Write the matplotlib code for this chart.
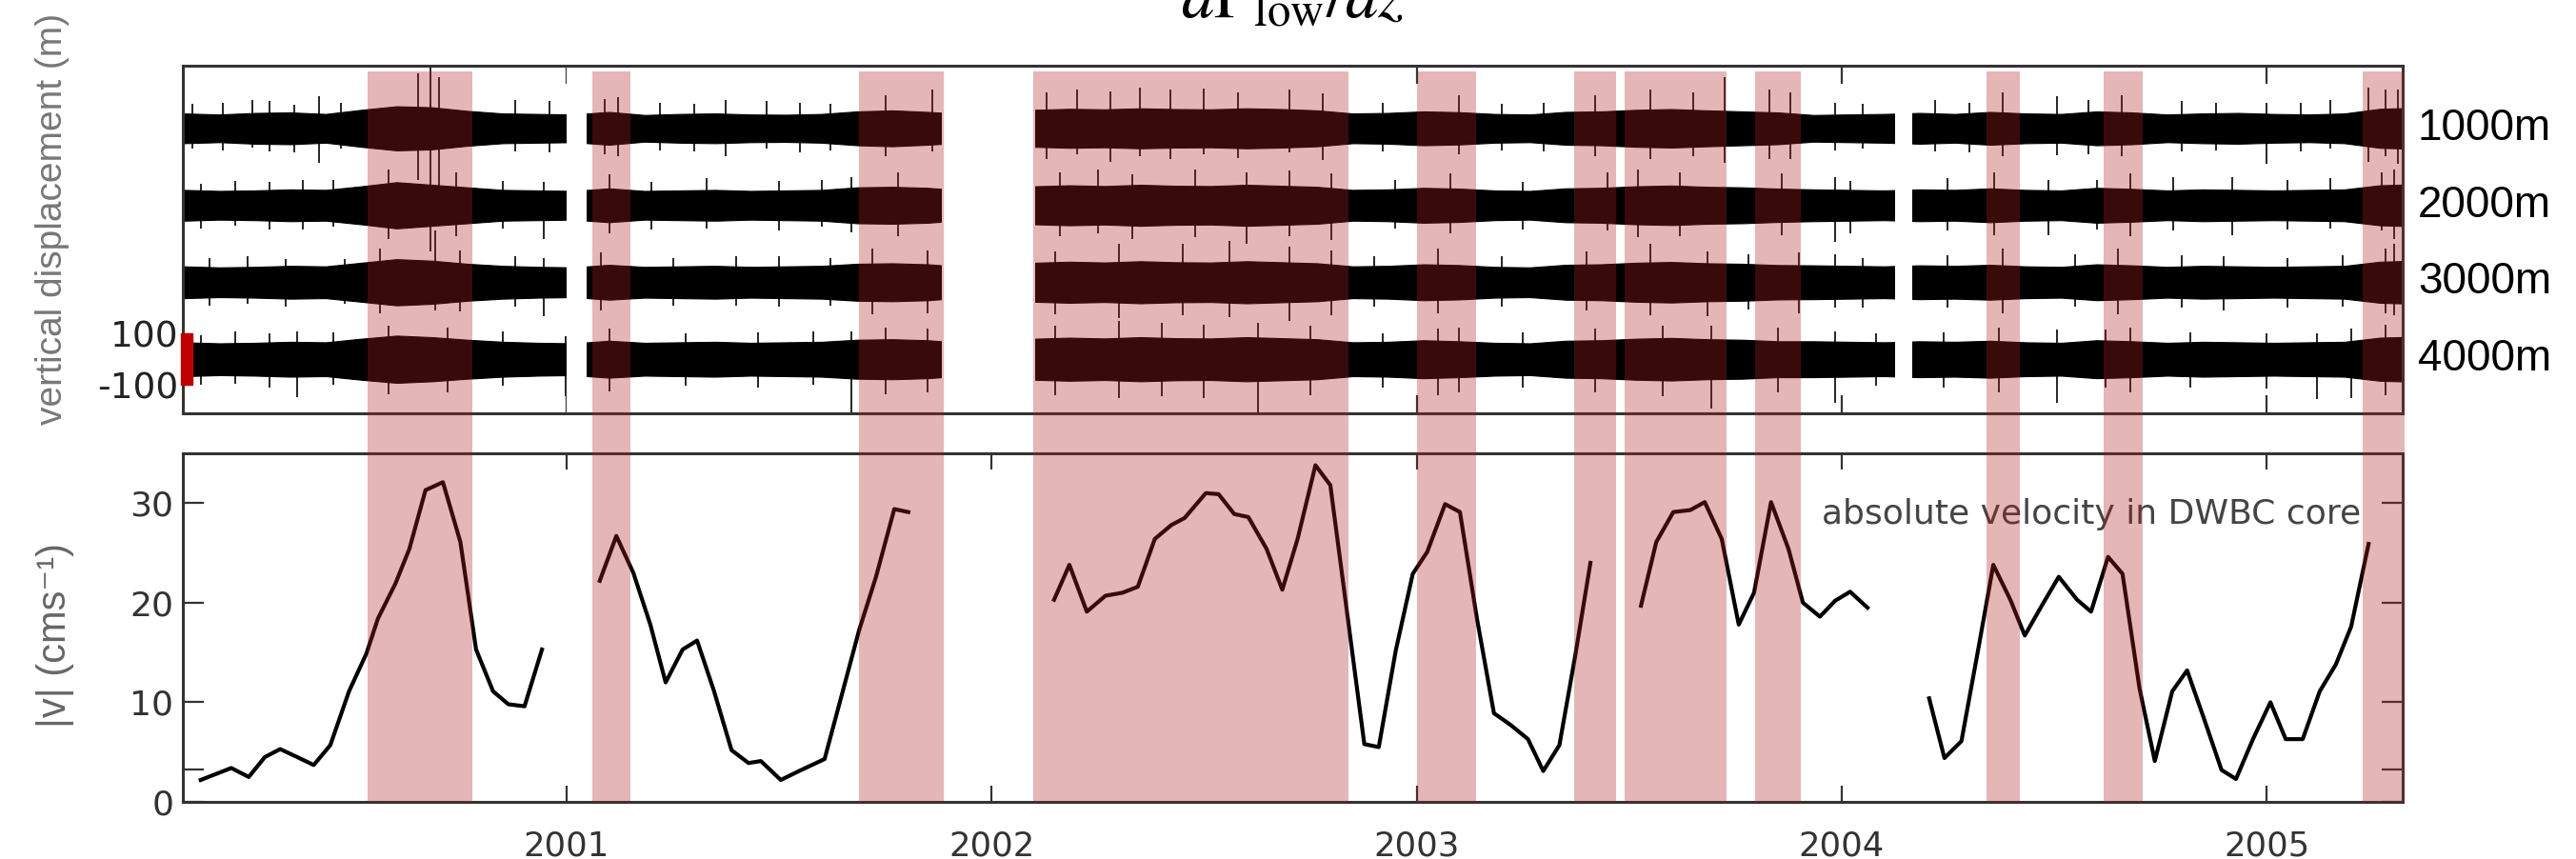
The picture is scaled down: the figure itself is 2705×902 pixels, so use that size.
import numpy as np
import matplotlib.pyplot as plt
import matplotlib.transforms as mtransforms
from matplotlib.patches import Rectangle

plt.rcParams['mathtext.fontset'] = 'stix'

# ---- data ----
years = [2001, 2002, 2003, 2004, 2005]
depths = ['1000m', '2000m', '3000m', '4000m']

# periods highlighted in red (decimal years)
band_start = [2000.532, 2001.061, 2001.688, 2002.097, 2003.000, 2003.370,
              2003.490, 2003.796, 2004.340, 2004.616, 2005.226]
band_end = [2000.778, 2001.150, 2001.887, 2002.840, 2003.140, 2003.470,
            2003.730, 2003.904, 2004.420, 2004.708, 2005.325]

# data gaps in the mooring records
gap_start = [2001.000, 2001.883, 2004.126]
gap_end = [2001.048, 2002.102, 2004.166]

# |v| in DWBC core (cm/s), nan = gap
v_time = [2000.139, 2000.175, 2000.211, 2000.252, 2000.290, 2000.326, 2000.366,
          2000.405, 2000.444, 2000.488, 2000.529, 2000.556, 2000.597, 2000.630,
          2000.668, 2000.709, 2000.750, 2000.787, 2000.827, 2000.863, 2000.901,
          2000.942, 2001.010,
          2001.078, 2001.117, 2001.157, 2001.197, 2001.233, 2001.273, 2001.307,
          2001.347, 2001.388, 2001.428, 2001.457, 2001.504, 2001.547, 2001.607,
          2001.688, 2001.728, 2001.771, 2001.804, 2001.950,
          2002.147, 2002.183, 2002.224, 2002.268, 2002.308, 2002.344, 2002.384,
          2002.423, 2002.454, 2002.504, 2002.534, 2002.571, 2002.604, 2002.647,
          2002.684, 2002.720, 2002.762, 2002.797, 2002.877, 2002.911, 2002.951,
          2002.991, 2003.025, 2003.067, 2003.102, 2003.142, 2003.182, 2003.222,
          2003.262, 2003.298, 2003.336, 2003.373, 2003.409, 2003.470,
          2003.528, 2003.564, 2003.604, 2003.644, 2003.678, 2003.718, 2003.758,
          2003.794, 2003.834, 2003.875, 2003.909, 2003.949, 2003.985, 2004.020,
          2004.061, 2004.130,
          2004.206, 2004.242, 2004.282, 2004.321, 2004.357, 2004.397, 2004.431,
          2004.471, 2004.511, 2004.554, 2004.587, 2004.627, 2004.661, 2004.701,
          2004.737, 2004.778, 2004.813, 2004.854, 2004.894, 2004.928, 2004.968,
          2005.009, 2005.045, 2005.085, 2005.125, 2005.163, 2005.199, 2005.240]
v_speed = [2.2, 2.8, 3.4, 2.5, 4.5, 5.3, 4.5,
           3.7, 5.7, 11.1, 14.9, 18.4, 21.9, 25.4,
           31.3, 32.1, 26.1, 15.3, 11.1, 9.8, 9.6,
           15.3, np.nan,
           22.2, 26.7, 23.0, 17.8, 12.0, 15.3, 16.2,
           11.1, 5.2, 3.9, 4.1, 2.2, 3.1, 4.3,
           17.2, 22.6, 29.4, 29.1, np.nan,
           20.3, 23.8, 19.1, 20.7, 21.0, 21.6, 26.4,
           27.8, 28.5, 31.0, 30.9, 28.9, 28.6, 25.4,
           21.3, 26.4, 33.8, 31.8, 5.8, 5.5, 15.2,
           22.9, 25.1, 29.9, 29.1, 18.4, 8.9, 7.7,
           6.3, 3.1, 5.7, 14.6, 24.0, np.nan,
           19.7, 26.1, 29.1, 29.3, 30.1, 26.4, 17.8,
           21.0, 30.1, 25.4, 20.0, 18.6, 20.2, 21.1,
           19.5, np.nan,
           10.4, 4.4, 6.1, 15.2, 23.8, 20.3, 16.7,
           19.7, 22.6, 20.3, 19.1, 24.6, 22.9, 11.4,
           4.1, 11.1, 13.2, 8.2, 3.2, 2.3, 6.3,
           10.0, 6.3, 6.3, 11.1, 13.8, 17.6, 25.9]

# monthly envelope (half width, m) of the vertical displacement records
env_time = 2000.10 + np.arange(64) / 12.0
amp_1000 = [58, 54, 60, 62, 56, 72, 86, 82, 68, 58, 56, 54, 64, 52, 56, 58, 54, 53, 56,
            66, 70, 64, 56, 56, 72, 76, 74, 78, 75, 74, 78, 75, 70, 58, 60, 66, 63,
            56, 54, 64, 66, 72, 75, 70, 66, 62, 52, 54, 56, 60, 56, 64, 58, 56, 66,
            62, 54, 58, 60, 56, 54, 58, 76, 80]
amp_2000 = [60, 56, 58, 62, 60, 74, 90, 80, 70, 60, 58, 56, 66, 56, 58, 60, 56, 58, 60,
            70, 72, 68, 58, 58, 74, 78, 75, 80, 76, 75, 80, 76, 72, 60, 62, 68, 65,
            58, 56, 66, 68, 74, 77, 72, 70, 65, 62, 60, 58, 62, 60, 66, 60, 58, 68,
            64, 58, 62, 60, 58, 60, 62, 78, 82]
amp_3000 = [62, 58, 60, 64, 62, 76, 90, 84, 72, 64, 60, 58, 68, 60, 62, 64, 60, 62, 64,
            72, 74, 70, 60, 60, 76, 80, 77, 82, 78, 77, 82, 78, 74, 62, 64, 70, 67,
            60, 58, 68, 70, 76, 79, 74, 72, 67, 66, 64, 62, 66, 64, 68, 62, 60, 70,
            66, 60, 64, 62, 60, 62, 64, 80, 84]
amp_4000 = [66, 62, 64, 68, 66, 80, 92, 86, 76, 68, 64, 62, 72, 64, 66, 68, 64, 66, 68,
            76, 78, 74, 64, 64, 80, 84, 81, 86, 82, 81, 86, 82, 78, 66, 68, 74, 70,
            64, 62, 72, 74, 80, 83, 78, 76, 70, 70, 68, 66, 70, 68, 72, 66, 64, 74,
            70, 64, 68, 66, 64, 66, 68, 84, 88]

# spikes: time, lowest and highest excursion (m)
spike_1000 = [(2000.120, -80, 95), (2000.190, -85, 100), (2000.260, -75, 110),
              (2000.300, -90, 105), (2000.360, -95, 90), (2000.417, -133, 126),
              (2000.470, -80, 100), (2000.650, -200, 215), (2000.680, -480, 237),
              (2000.700, -350, 200), (2000.880, -90, 110), (2000.960, -95, 105),
              (2001.090, -100, 115), (2001.120, -110, 120), (2001.220, -85, 100),
              (2001.300, -90, 95), (2001.374, -110, 111), (2001.470, -80, 105),
              (2001.550, -95, 100), (2001.620, -85, 95), (2001.750, -110, 130),
              (2001.860, -90, 150), (2002.130, -120, 140), (2002.200, -100, 150),
              (2002.280, -130, 145), (2002.350, -110, 160), (2002.420, -120, 150),
              (2002.500, -100, 155), (2002.580, -115, 140), (2002.700, -95, 150),
              (2002.780, -125, 135), (2002.920, -90, 100), (2003.100, -100, 130),
              (2003.200, -85, 95), (2003.300, -90, 100), (2003.420, -110, 130),
              (2003.550, -120, 150), (2003.650, -110, 140), (2003.725, -133, 200),
              (2003.830, -120, 150), (2003.880, -120, 140), (2003.985, -85, 100),
              (2004.050, -80, 95), (2004.220, -90, 110), (2004.300, -95, 100),
              (2004.380, -110, 140), (2004.506, -105, 126), (2004.580, -100, 110),
              (2004.660, -110, 130), (2004.800, -90, 105), (2004.880, -85, 100),
              (2005.000, -140, 100), (2005.080, -90, 100), (2005.150, -80, 110),
              (2005.240, -130, 160), (2005.280, -110, 150), (2005.310, -140, 150)]
spike_2000 = [(2000.140, -90, 85), (2000.220, -80, 95), (2000.300, -95, 90),
              (2000.380, -95, 100), (2000.450, -85, 100), (2000.580, -130, 140),
              (2000.740, -120, 130), (2000.850, -90, 95), (2000.946, -130, 90),
              (2001.100, -110, 120), (2001.200, -95, 90), (2001.330, -90, 105),
              (2001.500, -100, 95), (2001.600, -85, 100), (2001.670, -107, 110),
              (2001.780, -120, 130), (2002.160, -120, 130), (2002.250, -110, 140),
              (2002.330, -130, 120), (2002.480, -125, 140), (2002.600, -150, 130),
              (2002.700, -120, 135), (2002.800, -135, 125), (2002.950, -90, 100),
              (2003.080, -110, 125), (2003.250, -95, 90), (2003.450, -100, 130),
              (2003.520, -125, 140), (2003.620, -120, 130), (2003.860, -115, 125),
              (2003.985, -144, 110), (2004.020, -110, 95), (2004.250, -100, 105),
              (2004.360, -115, 130), (2004.486, -118, 100), (2004.600, -95, 100),
              (2004.680, -120, 125), (2004.780, -100, 110), (2004.920, -118, 110),
              (2005.050, -95, 100), (2005.150, -90, 105), (2005.270, -100, 130),
              (2005.300, -130, 140)]
spike_3000 = [(2000.160, -90, 95), (2000.250, -85, 100), (2000.340, -95, 90),
              (2000.478, -85, 90), (2000.560, -120, 130), (2000.690, -110, 200),
              (2000.750, -115, 125), (2000.880, -95, 100), (2000.946, -133, 95),
              (2001.080, -110, 115), (2001.250, -90, 95), (2001.400, -90, 100),
              (2001.500, -95, 100), (2001.620, -90, 95), (2001.720, -125, 130),
              (2001.850, -120, 125), (2002.150, -125, 120), (2002.300, -140, 150),
              (2002.450, -130, 150), (2002.560, -135, 160), (2002.700, -150, 140),
              (2002.800, -130, 125), (2002.900, -95, 100), (2003.050, -120, 130),
              (2003.200, -95, 100), (2003.400, -110, 120), (2003.550, -130, 150),
              (2003.684, -133, 120), (2003.780, -105, 110), (2003.900, -120, 115),
              (2003.985, -100, 110), (2004.050, -100, 95), (2004.250, -100, 105),
              (2004.380, -120, 130), (2004.550, -95, 110), (2004.650, -125, 130),
              (2004.800, -100, 105), (2004.900, -110, 100), (2005.050, -100, 95),
              (2005.180, -95, 105), (2005.280, -120, 130), (2005.300, -130, 150)]
spike_4000 = [(2000.140, -100, 95), (2000.220, -95, 110), (2000.300, -110, 100),
              (2000.366, -148, 110), (2000.450, -100, 105), (2000.580, -135, 130),
              (2000.720, -130, 125), (2000.850, -105, 110), (2000.997, -144, 90),
              (2001.100, -125, 120), (2001.280, -105, 100), (2001.450, -110, 105),
              (2001.580, -100, 110), (2001.670, -211, 110), (2001.750, -135, 125),
              (2001.850, -130, 120), (2002.150, -140, 130), (2002.300, -150, 150),
              (2002.400, -145, 140), (2002.500, -150, 135), (2002.627, -211, 140),
              (2002.750, -140, 130), (2002.920, -110, 100), (2003.050, -140, 120),
              (2003.100, -130, 125), (2003.250, -110, 105), (2003.420, -130, 120),
              (2003.580, -145, 130), (2003.693, -192, 130), (2003.850, -130, 125),
              (2003.985, -170, 110), (2004.080, -105, 100), (2004.240, -110, 105),
              (2004.370, -130, 125), (2004.506, -170, 115), (2004.620, -110, 115),
              (2004.680, -130, 125), (2004.820, -110, 105), (2005.000, -115, 100),
              (2005.118, -155, 100), (2005.199, -150, 120), (2005.280, -140, 135)]

amps = [amp_1000, amp_2000, amp_3000, amp_4000]
spikes = [spike_1000, spike_2000, spike_3000, spike_4000]
trace_offset = [900, 600, 300, 0]

# ---- figure ----
fig = plt.figure(figsize=(27.05, 9.02), dpi=100)
ax1 = fig.add_axes([0.07098, 0.5188, 0.8617, 0.4047])
ax2 = fig.add_axes([0.07098, 0.0665, 0.8617, 0.4058])
xmin, xmax = 2000.097, 2005.32
spine_col = '#333333'

# top panel: displacement records (envelope + spikes)
for amp, spk, off in zip(amps, spikes, trace_offset):
    amp = np.array(amp)
    ax1.fill_between(env_time, off - amp, off + amp, color='black', lw=0.8, zorder=1)
    st = [s[0] for s in spk]
    lo = [off + s[1] for s in spk]
    hi = [off + s[2] for s in spk]
    ax1.vlines(st, lo, hi, color='black', lw=1.2, zorder=1)
for a, b in zip(gap_start, gap_end):
    ax1.axvspan(a, b, color='white', lw=0, zorder=2)

ax1.set_xlim(xmin, xmax)
ax1.set_ylim(-211, 1144)
ax1.set_xticks(years)
ax1.set_xticklabels([])
ax1.set_yticks([-100, 100])
ax1.set_yticklabels(['-100', '100'], fontsize=27, color='#222222')
ax1.tick_params(axis='y', length=0, pad=3)
ax1.tick_params(axis='x', direction='in', length=14, width=1.6, top=True,
                color=spine_col)

# scale bar
blend1 = mtransforms.blended_transform_factory(ax1.transAxes, ax1.transData)
ax1.add_patch(Rectangle((-0.0009, -100), 0.0052, 200, transform=blend1,
                        color='#c00000', clip_on=False, zorder=6))
for lab, off in zip(depths, trace_offset):
    ax1.text(1.0069, off, lab, transform=blend1, ha='left', va='center',
             fontsize=33, family=['Liberation Sans', 'DejaVu Sans'], color='black')

# bottom panel: velocity
ax2.plot(v_time, v_speed, color='black', lw=3, zorder=3)
ax2.set_xlim(xmin, xmax)
ax2.set_ylim(0, 35)
ax2.set_xticks(years)
ax2.set_xticklabels([str(y) for y in years], fontsize=25.5, color='#333333')
ax2.set_yticks([0, 10, 20, 30])
ax2.set_yticklabels(['0', '10', '20', '30'], fontsize=26, color='#333333')
ax2.set_yticks([3.3], minor=True)
ax2.tick_params(axis='x', direction='in', length=12, width=1.6, top=True,
                pad=21, color=spine_col)
ax2.tick_params(axis='y', which='both', direction='in', length=16, width=1.6,
                right=True, pad=7, color=spine_col)
ax2.text(2004.587, 28.9, 'absolute velocity in DWBC core', ha='center', va='center',
         fontsize=26, color='#444444')

for ax in (ax1, ax2):
    for s in ax.spines.values():
        s.set_color(spine_col)
        s.set_linewidth(2.2)
        s.set_zorder(5)

# red highlight bands spanning both panels
blend2 = mtransforms.blended_transform_factory(ax2.transData, fig.transFigure)
for a, b in zip(band_start, band_end):
    fig.add_artist(Rectangle((a, 0.0665), b - a, 0.9169 - 0.0665, transform=blend2,
                             facecolor=(178 / 255, 31 / 255, 31 / 255), alpha=0.325,
                             lw=0, zorder=10))

# labels and title
fig.text(0.0205, 0.745, 'vertical displacement (m)', rotation=90, ha='center',
         va='center', fontsize=28, family=['Liberation Sans', 'DejaVu Sans'],
         color='#777777')
fig.text(0.0215, 0.2605, '|v| (cms⁻¹)', rotation=90, ha='center', va='center',
         fontsize=30, family=['Liberation Sans', 'DejaVu Sans'], color='#666666')
fig.text(0.502, 0.980, r'$d\Gamma_{\rm low}/dz$', ha='center', va='baseline',
         fontsize=50)

fig.savefig('out.png', dpi=100)
